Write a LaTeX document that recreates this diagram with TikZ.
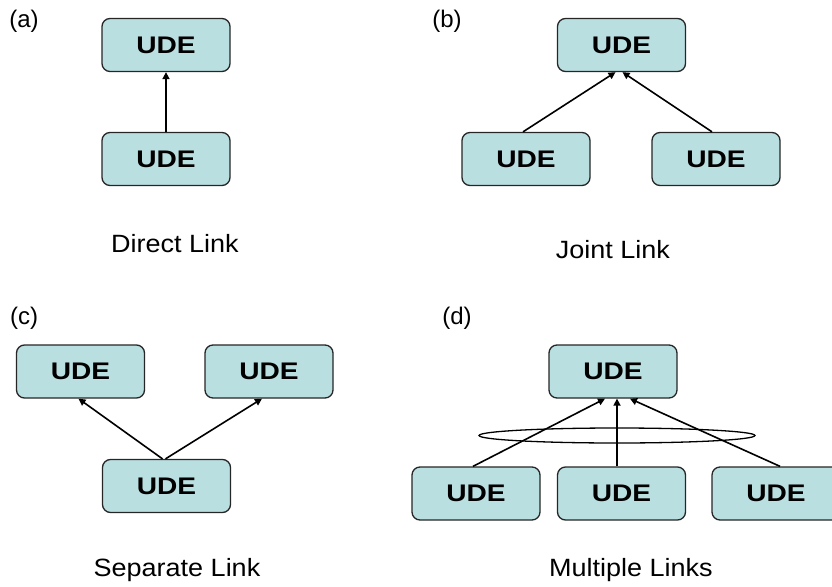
\documentclass[tikz,border=0pt]{standalone}
\usepackage{fontspec}
\setmainfont{Liberation Sans}
\newfontfamily\udefont[FakeStretch=1.17]{Liberation Sans}
\newfontfamily\capfont[FakeStretch=1.08]{Liberation Sans}
\usetikzlibrary{arrows.meta,calc}
\definecolor{udefill}{RGB}{186,223,225}
\tikzset{
  ude/.style={draw=black!85, line width=1.3pt, fill=udefill, rounded corners=8pt,
    minimum width=128pt, minimum height=53pt, inner sep=0pt,
    font=\udefont\fontsize{24}{28}\selectfont\bfseries},
  link/.style={line width=1.6pt, -{Triangle[length=7pt,width=7pt]}},
  caption/.style={font=\capfont\fontsize{25}{30}\selectfont, inner sep=0pt},
  tag/.style={font=\fontsize{24}{28}\selectfont, inner sep=0pt}
}
\begin{document}
\begin{tikzpicture}[x=1pt,y=-1pt]
\useasboundingbox (0,0) rectangle (832,586);

% (a) direct link
\node[tag] (ta) at (24,21) {(a)};
\node[ude] (a1) at (166,45) {UDE};
\node[ude] (a2) at (166,159) {UDE};
\draw[link] (a2.north) -- (a1.south);
\node[caption] (ca) at (175,244) {Direct Link};

% (b) joint link
\node[tag] (tb) at (447,21) {(b)};
\node[ude] (b1) at (621.5,45) {UDE};
\node[ude] (b2) at (526,159) {UDE};
\node[ude] (b3) at (716,159) {UDE};
\draw[link] ($(b2.north)+(-3,0)$) -- ($(b1.south)+(-6,0)$);
\draw[link] ($(b3.north)+(-4,0)$) -- ($(b1.south)+(1,0)$);
\node[caption] (cb) at (613,250) {Joint Link};

% (c) separate link
\node[tag] (tc) at (24,318) {(c)};
\node[ude] (c1) at (80.5,371.5) {UDE};
\node[ude] (c2) at (269,371.5) {UDE};
\node[ude] (c3) at (166.5,486) {UDE};
\draw[link] ($(c3.north)+(-4,0)$) -- ($(c1.south)+(-2,0)$);
\draw[link] ($(c3.north)+(-1,0)$) -- ($(c2.south)+(-7,0)$);
\node[caption] (cc) at (177,570) {Separate Link};

% (d) multiple links
\node[tag] (td) at (457,318) {(d)};
\node[ude] (d0) at (613,371.5) {UDE};
\node[ude] (d1) at (476,493.5) {UDE};
\node[ude] (d2) at (621.5,493.5) {UDE};
\node[ude] (d3) at (776,493.5) {UDE};
\draw[link] ($(d1.north)+(-3,0)$) -- ($(d0.south)+(-8,0)$);
\draw[link] ($(d2.north)+(-4.5,0)$) -- ($(d0.south)+(4,0)$);
\draw[link] ($(d3.north)+(4,0)$) -- ($(d0.south)+(17,0)$);
\draw[line width=1.3pt] (617,435.5) ellipse [x radius=138, y radius=7.5];
\node[caption] (cd) at (631,570) {Multiple Links};
\end{tikzpicture}
\end{document}
